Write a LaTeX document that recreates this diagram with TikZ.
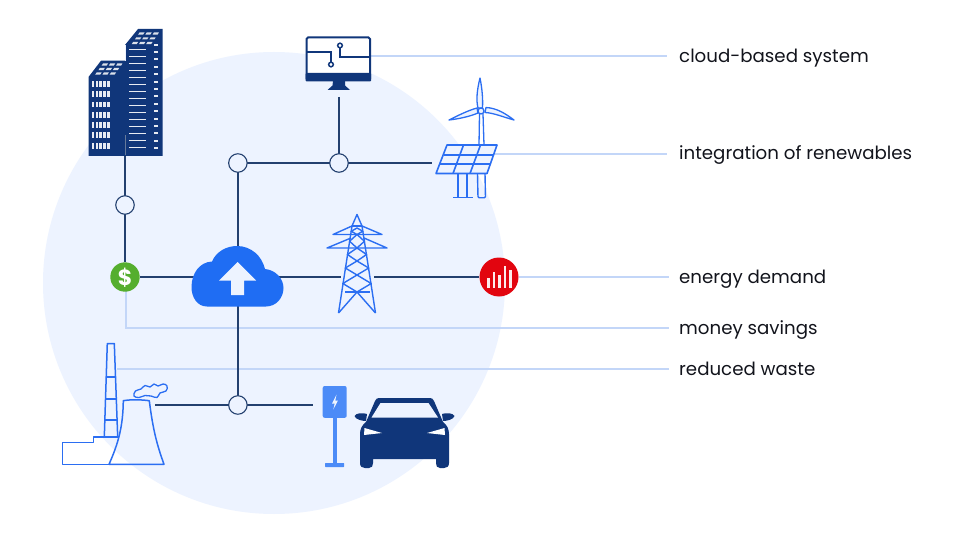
\documentclass[tikz,border=0pt]{standalone}
\usepackage{fontspec}
\setmainfont{Poppins}
\definecolor{navy}{HTML}{10367A}
\definecolor{wire}{HTML}{23406F}
\definecolor{lite}{HTML}{C3D6F8}
\definecolor{disc}{HTML}{EDF3FF}
\definecolor{icon}{HTML}{2B6EF2}
\definecolor{cloudc}{HTML}{1F6DF3}
\definecolor{pump}{HTML}{4C8BF7}
\definecolor{ink}{HTML}{12141C}
\definecolor{moneyc}{HTML}{55AE2E}
\definecolor{redc}{HTML}{E2050F}
\tikzset{
 wireline/.style={draw=wire,line width=1.2pt},
 liteline/.style={draw=lite,line width=1.2pt},
 junction/.style={circle,draw=wire,fill=disc,line width=1.1pt,minimum size=18.5pt,inner sep=0pt},
 outline/.style={draw=icon,line width=1.6pt,line join=round,fill=none},
 labeltext/.style={anchor=base west,text=ink,font=\fontsize{18.2}{20}\selectfont,inner sep=0pt},
}
\begin{document}
\begin{tikzpicture}[x=1pt,y=-1pt]
\useasboundingbox (0,0) rectangle (960,540);
\fill[white] (0,0) rectangle (960,540);
\fill[disc] (274,283) circle [radius=231];

% anchors
\coordinate (bldgB) at (125,155);
\coordinate (monB) at (339,97);
\coordinate (monR) at (371,56);
\coordinate (panelL) at (432,163);
\coordinate (panelR) at (490,154);
\coordinate (towerL) at (341,277);
\coordinate (towerR) at (374,277);
\coordinate (plantR) at (155,405);
\coordinate (plantT) at (117,369);
\coordinate (pumpL) at (313,405);
\coordinate (cloudC) at (237.9,277);
\coordinate (end1) at (667,56);
\coordinate (end2) at (667,154);
\coordinate (end3) at (669,277);
\coordinate (end4) at (669,328);
\coordinate (end5) at (669,369);
\coordinate (bend4) at (126,328);
\coordinate (dollarS) at (126,290);

\node[circle,minimum size=18.5pt,inner sep=0pt] (j1) at (125,205) {};
\node[circle,minimum size=18.5pt,inner sep=0pt] (j2) at (237.9,163) {};
\node[circle,minimum size=18.5pt,inner sep=0pt] (j3) at (339,163) {};
\node[circle,minimum size=18.5pt,inner sep=0pt] (j4) at (237.9,405) {};
\node[circle,minimum size=30pt,inner sep=0pt] (dollar) at (125,277) {};
\node[circle,minimum size=39pt,inner sep=0pt] (red) at (499,277) {};

% light connectors
\draw[liteline] (monR) -- (end1);
\draw[liteline] (panelR) -- (end2);
\draw[liteline] (red) -- (end3);
\draw[liteline] (dollarS) -- (bend4) -- (end4);
\draw[liteline] (plantT) -- (end5);

% dark connectors
\draw[wireline] (bldgB) -- (j1);
\draw[wireline] (j1) -- (dollar);
\draw[wireline] (dollar) -- (cloudC);
\draw[wireline] (cloudC) -- (towerL);
\draw[wireline] (towerR) -- (red);
\draw[wireline] (j2) -- (j3);
\draw[wireline] (j3) -- (panelL);
\draw[wireline] (monB) -- (j3);
\draw[wireline] (j2) -- (cloudC);
\draw[wireline] (cloudC) -- (j4);
\draw[wireline] (plantR) -- (j4);
\draw[wireline] (j4) -- (pumpL);

\foreach \p in {j1,j2,j3,j4} \node[junction] at (\p) {};

% buildings
\fill[navy] (88.5,156) -- (88.5,77) -- (101,60.7) -- (125,60.7) -- (125,45) -- (138,29) -- (162.5,29) -- (162.5,156) -- cycle;
\foreach \r/\yy in {0/32.5,1/37.3,2/42}{
  \foreach \c in {0,1,2}{
    \fill[white!85!navy] ({139.5-\r*3.2+\c*7.2},\yy) -- ++(5,0) -- ++(-1.4,2.2) -- ++(-5,0) -- cycle;
  }
}
\foreach \r/\yy in {0/63.5,1/68,2/72.5}{
  \foreach \c in {0,1,2}{
    \fill[white!85!navy] ({103-\r*3.2+\c*7.2},\yy) -- ++(5,0) -- ++(-1.4,2.2) -- ++(-5,0) -- cycle;
  }
}
\foreach \i in {0,...,14}{
  \fill[white!90!navy] (128.5,{48.6+\i*7}) rectangle (146,{50.2+\i*7});
  \fill[white!90!navy] (153.5,{43.6+\i*7.4}) rectangle (158,{45.6+\i*7.4});
}
\foreach \i in {0,...,6}{
  \foreach \c in {0,...,4}{
    \fill[white!90!navy] ({91.7+\c*3.8},{81+\i*10.3}) rectangle ({94.4+\c*3.8},{86.8+\i*10.3});
  }
}
\draw[disc,line width=0.4pt] (125,60.7) -- (125,45);
\draw[wire!70!white,line width=0.8pt] (125,135) -- (bldgB);

% monitor
\draw[navy,line width=2pt,rounded corners=1.5pt,fill=white] (306.5,37.5) rectangle (370,80);
\fill[navy,rounded corners=1pt] (305.5,73) rectangle (371,81.5);
\fill[navy] (333,81) -- (345,81) -- (345,85.5) -- (350,90) -- (327.5,90) -- (332.5,85.5) -- cycle;
\draw[navy,line width=1.7pt] (306.5,52) -- (331,52) -- (331,62);
\draw[navy,line width=1.7pt] (340,48) -- (340,56.7) -- (370,56.7);
\draw[navy,line width=1.5pt,fill=white] (331,64.5) circle (2.3);
\draw[navy,line width=1.5pt,fill=white] (340,45.5) circle (2.3);

% wind turbine
\draw[outline,line width=1.3pt] (479,145) -- (479.5,114) (483,114) -- (484,145);
\draw[outline,line width=1.3pt,fill=disc] (480,78) .. controls (477,90) and (476,100) .. (478,108) -- (482.5,108) .. controls (483,98) and (482,88) .. (480,78) -- cycle;
\draw[outline,line width=1.3pt,fill=disc] (449,120) .. controls (458,115.5) and (468,110.5) .. (477,108) -- (478,113) .. controls (470,116.5) and (458,119) .. (449,120) -- cycle;
\draw[outline,line width=1.3pt,fill=disc] (514,120) .. controls (506,114) and (497,108) .. (486,107.5) -- (485,112.5) .. controls (494,113) and (503,117) .. (514,120) -- cycle;
\draw[outline,line width=1.3pt,fill=disc] (481,111) circle (3);
% solar panel
\draw[outline,fill=disc] (447,145) -- (497,145) -- (487,173.5) -- (436,173.5) -- cycle;
\draw[outline] (443.5,155) -- (493.5,155) (440.2,164) -- (490.2,164);
\draw[outline] (463.5,145) -- (453,173.5) (480.5,145) -- (470,173.5);
\draw[outline,line width=1.4pt] (458,174) -- (458,197.5) (467,174) -- (467,197.5);
\draw[outline,line width=1.4pt] (453,197.7) -- (473,197.7);
\draw[outline,line width=1.4pt,rounded corners=1pt] (477.5,174) -- (478,197.7) -- (485.5,197.7) -- (485,174);

% pylon
\begin{scope}[outline,line width=1.4pt]
\draw (352,226) -- (357,214.5) -- (362,226);
\draw (352,226) -- (338.5,313);
\draw (362,226) -- (375.5,313);
\draw (352,226) -- (362,226);
\draw (352,226) -- (333,234.5) -- (382,234.5) -- (362,226);
\draw (351,238) -- (327,248) -- (387,248) -- (364,238);
\draw (345,292) -- (370,292);
\draw (338.5,313) -- (357,292) -- (375.5,313);
\foreach \a/\b in {228/234.5,234.5/248,248/261,261/275,275/292}{
  \pgfmathsetmacro{\mm}{(\a+\b)/2}
  \pgfmathsetmacro{\ww}{5+(\mm-226)*0.16}
  \draw (357,\a) -- ({357-\ww},\mm) -- (357,\b) -- ({357+\ww},\mm) -- cycle;
}
\end{scope}

% cloud
\fill[cloudc] (207,306.5) .. controls (197,306.5) and (191.5,297) .. (191.5,287) .. controls (191.5,273) and (200,262) .. (212,261.5) .. controls (216,252) and (226,246) .. (237,246) .. controls (251,246) and (262,256) .. (265,269) .. controls (276,270) and (283.5,279) .. (283.5,288) .. controls (283.5,298) and (276,306.5) .. (266,306.5) -- cycle;
\fill[disc] (237.5,262) -- (256,280.5) -- (244,280.5) -- (244,295) -- (231,295) -- (231,280.5) -- (219,280.5) -- cycle;

% dollar
\fill[moneyc] (125,277) circle (14.7);
\node[text=white,font=\fontsize{22}{22}\selectfont\bfseries,inner sep=0pt] (dollarsign) at (125,277.5) {\$};

% red gauge
\fill[redc] (499,277) circle (19.5);
\foreach \xx/\yy in {487.3/278,492.7/272,498.3/275,503.7/266,509/270}{
  \fill[white!92!redc] (\xx,\yy) rectangle (\xx+2.7,287.7);
}

% power plant
\begin{scope}[outline,line width=1.5pt]
\draw (104.3,437) -- (107.3,343.5) -- (114.3,343.5) -- (117.7,437);
\draw (106,377) -- (116,377) (105,399) -- (116.5,399) (104.7,420) -- (117,420);
\draw (109,464.3) -- (62.5,464.3) -- (62.5,442.7) -- (93.3,442.7) -- (93.3,437) -- (118.5,437);
\draw (109,464.3) -- (164,464.3) .. controls (157,445) and (153,430) .. (149.3,400.7) .. controls (140,399.5) and (130,399.5) .. (123.3,400.7) .. controls (123,425) and (119,442) .. (109,464.3);
\end{scope}
\draw[outline,line width=1.3pt] plot[smooth cycle,tension=0.7] coordinates {(134,396) (135.5,391) (141,389) (145,385.5) (150,387) (154,384) (158,386) (163,384) (167,386) (166,391) (160,393) (157,397.5) (151,396) (145,395.5) (139,397.5)};

% charger
\fill[pump,rounded corners=2pt] (322.7,386) rectangle (346.7,417.8);
\fill[pump] (332.7,417) rectangle (336.7,464);
\fill[pump,rounded corners=0.5pt] (325,463) rectangle (344,467);
\fill[white!90!pump] (336.5,394.5) -- (332,403.5) -- (334.7,403.5) -- (333.3,409.5) -- (338,400.5) -- (335.3,400.5) -- cycle;

% car
\fill[navy] (379,398) -- (430,398) .. controls (432,398) and (433,399) .. (434,401) -- (443,422) .. controls (447,425) and (449,429) .. (449,434) -- (449,463) .. controls (449,466.5) and (447,468) .. (444,468) -- (440,468) .. controls (437,468) and (436,466) .. (436,463) -- (436,459) -- (373,459) -- (373,463) .. controls (373,466) and (372,468) .. (369,468) -- (365,468) .. controls (362,468) and (360,466.5) .. (360,463) -- (360,434) .. controls (360,429) and (362,425) .. (366,422) -- (375,401) .. controls (376,399) and (377,398) .. (379,398) -- cycle;
\fill[navy] (354.5,416) .. controls (355.5,413) and (363,412.5) .. (367,414) -- (366,421) .. controls (362,421) and (355.5,419.5) .. (354.5,416) -- cycle;
\fill[navy] (454.5,416) .. controls (453.5,413) and (446,412.5) .. (442,414) -- (443,421) .. controls (447,421) and (453.5,419.5) .. (454.5,416) -- cycle;
\fill[disc] (380.5,403) -- (428.5,403) -- (438,417.5) -- (371.5,417.5) -- cycle;
\fill[white!90!disc] (364.5,428) -- (382,433) -- (364,435) -- cycle;
\fill[white!90!disc] (444.5,428) -- (427,433) -- (445,435) -- cycle;

% labels
\node[labeltext] (t1) at (679,62.5) {cloud-based system};
\node[labeltext] (t2) at (679,159.5) {integration of renewables};
\node[labeltext] (t3) at (679,283.3) {energy demand};
\node[labeltext] (t4) at (679,334.3) {money savings};
\node[labeltext] (t5) at (679,375.3) {reduced waste};
\end{tikzpicture}
\end{document}
